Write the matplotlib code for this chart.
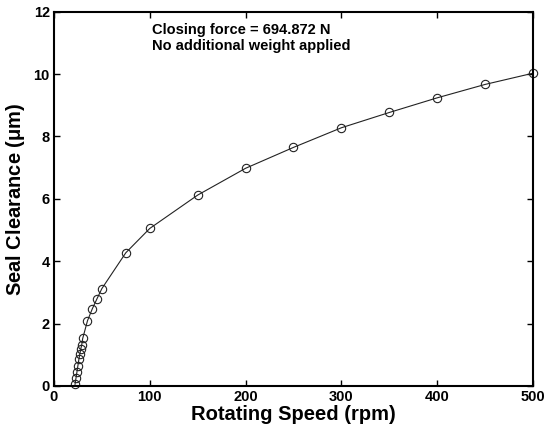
"""Seal clearance versus rotating speed."""

import matplotlib
matplotlib.use("Agg")
import matplotlib.pyplot as plt

speed_rpm = [22, 23, 24, 25, 26, 27, 28, 29, 30, 35, 40, 45, 50,
             75, 100, 150, 200, 250, 300, 350, 400, 450, 500]
clearance_um = [0.05, 0.25, 0.45, 0.65, 0.85, 1.02, 1.18, 1.32, 1.52, 2.09, 2.47, 2.8, 3.12,
                4.27, 5.05, 6.12, 6.98, 7.65, 8.28, 8.77, 9.24, 9.67, 10.03]

x_ticks = [0, 100, 200, 300, 400, 500]
y_ticks = [0, 2, 4, 6, 8, 10, 12]

plt.rcParams["font.family"] = ["Liberation Sans", "DejaVu Sans"]
plt.rcParams["mathtext.fontset"] = "custom"
plt.rcParams["mathtext.rm"] = "Liberation Sans:bold"
plt.rcParams["mathtext.it"] = "Liberation Sans:bold"

fig = plt.figure(figsize=(5.45, 4.37), dpi=100, facecolor="white")
ax = fig.add_axes([0.099, 0.117, 0.879, 0.856])

ax.plot(speed_rpm, clearance_um, color="#222222", linewidth=0.8,
        marker="o", markersize=6, markerfacecolor="none",
        markeredgecolor="#222222", markeredgewidth=0.8, clip_on=False)

ax.set_xlim(0, 500)
ax.set_ylim(0, 12)
ax.set_xticks(x_ticks)
ax.set_yticks(y_ticks)
ax.tick_params(direction="in", top=True, right=True, length=4, width=1.0,
               labelsize=10.5, pad=3)
for lbl in ax.get_xticklabels() + ax.get_yticklabels():
    lbl.set_fontweight("bold")
for spine in ax.spines.values():
    spine.set_linewidth(1.5)

ax.set_xlabel("Rotating Speed (rpm)", fontsize=14.5, fontweight="bold", labelpad=1)
ax.set_ylabel("Seal Clearance ($\\mu$m)", fontsize=14.5, fontweight="bold", labelpad=5)

ax.text(0.205, 0.97, "Closing force = 694.872 N\nNo additional weight applied",
        transform=ax.transAxes, ha="left", va="top", fontsize=10.5,
        fontweight="bold", linespacing=1.2)

fig.savefig("out.png", dpi=100)
